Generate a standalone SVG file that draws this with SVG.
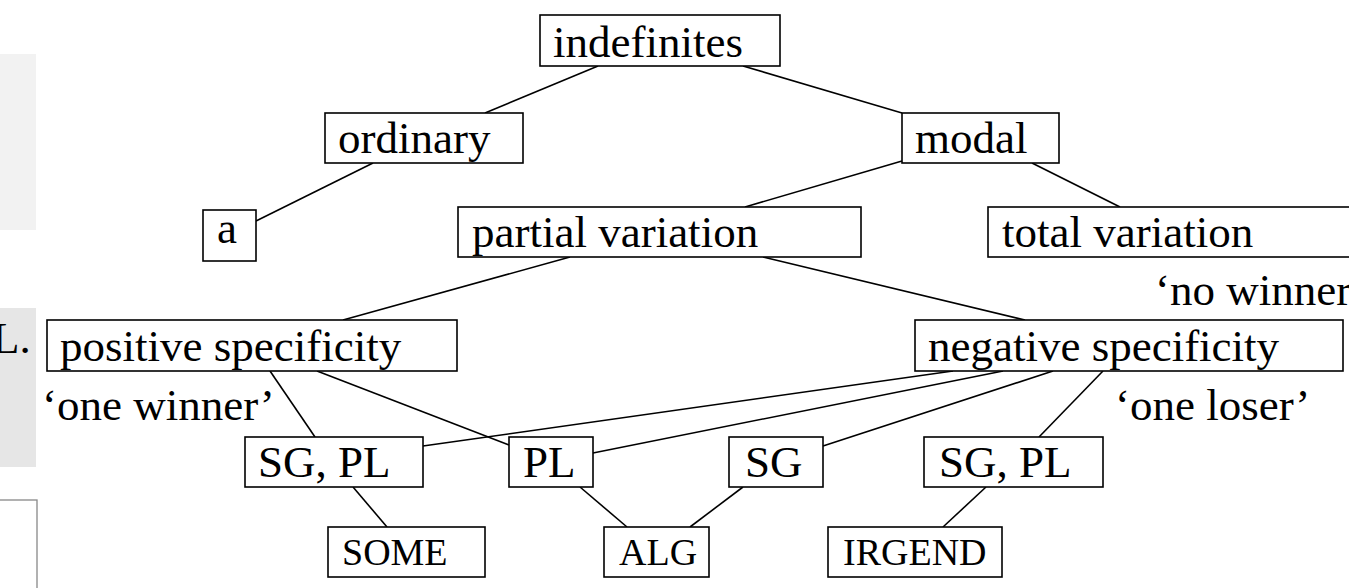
<svg xmlns="http://www.w3.org/2000/svg" width="1349" height="588" viewBox="0 0 1349 588">
<style>
.box{fill:#fff;stroke:#000;stroke-width:1.6}
.t{font-family:"Liberation Serif","Times New Roman",serif;font-size:45px;fill:#000}
.sc{font-family:"Liberation Serif","Times New Roman",serif;font-size:38px;fill:#000}
.e{stroke:#000;stroke-width:1.6;fill:none}
</style>
<rect width="1349" height="588" fill="#fff"/>
<g id="margin">
<rect x="0" y="54" width="36" height="176" fill="#f2f2f2"/>
<rect x="0" y="308" width="36" height="159" fill="#e6e6e6"/>
<text class="t" x="-8" y="353">L.</text>
<rect x="-2" y="500" width="39" height="100" fill="#fff" stroke="#888" stroke-width="1.3"/>
</g>
<g id="connectors">
<line class="e" x1="598" y1="66" x2="485" y2="113"/>
<line class="e" x1="743" y1="66" x2="902" y2="113"/>
<line class="e" x1="373" y1="163" x2="256" y2="221"/>
<line class="e" x1="902" y1="161" x2="745" y2="207"/>
<line class="e" x1="1032" y1="163" x2="1120" y2="207"/>
<line class="e" x1="570" y1="257" x2="343" y2="320"/>
<line class="e" x1="763" y1="257" x2="1025" y2="320"/>
<line class="e" x1="270" y1="371" x2="315" y2="437"/>
<line class="e" x1="317" y1="371" x2="509" y2="445"/>
<line class="e" x1="953" y1="371" x2="423" y2="446"/>
<line class="e" x1="1003" y1="371" x2="593" y2="453"/>
<line class="e" x1="1053" y1="371" x2="823" y2="446"/>
<line class="e" x1="1103" y1="371" x2="1039" y2="437"/>
<line class="e" x1="353" y1="487" x2="387" y2="527"/>
<line class="e" x1="580" y1="487" x2="627" y2="527"/>
<line class="e" x1="743" y1="487" x2="690" y2="527"/>
<line class="e" x1="986" y1="487" x2="943" y2="527"/>
</g>
<g id="indefinites"><rect class="box" x="540" y="15" width="240" height="51"/><text class="t" x="553" y="57">indefinites</text></g>
<g id="ordinary"><rect class="box" x="325" y="113" width="198" height="50"/><text class="t" x="338" y="153">ordinary</text></g>
<g id="modal"><rect class="box" x="902" y="113" width="157" height="50"/><text class="t" x="915" y="153">modal</text></g>
<g id="a"><rect class="box" x="203" y="210" width="53" height="51"/><text class="t" x="217" y="243">a</text></g>
<g id="partial"><rect class="box" x="458" y="207" width="403" height="50"/><text class="t" x="472" y="247">partial variation</text></g>
<g id="total"><rect class="box" x="988" y="207" width="380" height="50"/><text class="t" x="1002" y="247">total variation</text></g>
<g id="nowinner"><text class="t" x="1155" y="305">‘no winner’</text></g>
<g id="positive"><rect class="box" x="47" y="320" width="410" height="51"/><text class="t" x="60" y="361">positive specificity</text></g>
<g id="negative"><rect class="box" x="915" y="320" width="428" height="51"/><text class="t" x="928" y="361">negative specificity</text></g>
<g id="onewinner"><text class="t" x="42" y="420">‘one winner’</text></g>
<g id="oneloser"><text class="t" x="1115" y="420">‘one loser’</text></g>
<g id="sgpl1"><rect class="box" x="245" y="437" width="178" height="50"/><text class="t" x="258" y="477">SG, PL</text></g>
<g id="pl"><rect class="box" x="509" y="437" width="84" height="50"/><text class="t" x="523" y="477">PL</text></g>
<g id="sg"><rect class="box" x="729" y="437" width="94" height="50"/><text class="t" x="745" y="477">SG</text></g>
<g id="sgpl2"><rect class="box" x="924" y="437" width="179" height="50"/><text class="t" x="939" y="477">SG, PL</text></g>
<g id="some"><rect class="box" x="328" y="527" width="157" height="50"/><text class="sc" x="342" y="565">SOME</text></g>
<g id="alg"><rect class="box" x="604" y="527" width="105" height="50"/><text class="sc" x="619" y="565">ALG</text></g>
<g id="irgend"><rect class="box" x="828" y="527" width="174" height="50"/><text class="sc" x="843" y="565">IRGEND</text></g>
</svg>
